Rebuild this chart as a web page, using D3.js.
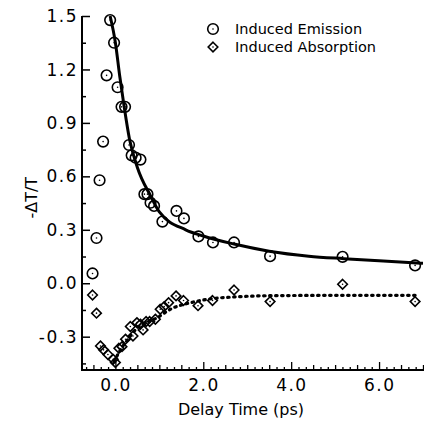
<!DOCTYPE html>
<html>
<head>
<meta charset="utf-8">
<script src="https://cdn.jsdelivr.net/npm/d3@7"></script>
<style>
  body { margin: 0; background: #fff; }
  text { font-family: "DejaVu Sans", Verdana, sans-serif; fill: #000; }
</style>
</head>
<body>
<div id="chart"></div>
<script>
// Induced emission (circles): delay time (ps), -dT/T
const emissionT = [-0.52, -0.43, -0.36, -0.28, -0.20, -0.12, -0.03, 0.05, 0.14, 0.22, 0.31, 0.37, 0.46, 0.57,
  0.66, 0.73, 0.80, 0.88, 1.07, 1.39, 1.56, 1.89, 2.22, 2.70, 3.52, 5.17, 6.82];
const emissionV = [0.055, 0.254, 0.578, 0.795, 1.167, 1.477, 1.35, 1.10, 0.99, 0.99, 0.776, 0.718, 0.705, 0.694,
  0.50, 0.50, 0.452, 0.434, 0.346, 0.406, 0.364, 0.263, 0.229, 0.229, 0.152, 0.148, 0.10];

// Induced absorption (diamonds)
const absorptionT = [-0.52, -0.43, -0.34, -0.27, -0.17, -0.05, 0.0, 0.08, 0.15, 0.23, 0.34, 0.40, 0.49, 0.57,
  0.63, 0.70, 0.78, 0.91, 1.02, 1.11, 1.21, 1.38, 1.55, 1.88, 2.21, 2.70, 3.52, 5.17, 6.82];
const absorptionV = [-0.066, -0.168, -0.352, -0.374, -0.40, -0.427, -0.445, -0.365, -0.356, -0.314, -0.243, -0.296,
  -0.221, -0.23, -0.262, -0.215, -0.215, -0.202, -0.146, -0.131, -0.109, -0.071, -0.097, -0.126, -0.097, -0.038,
  -0.103, -0.006, -0.103];

// fit curves
const emissionFitT = [-0.12, 0.0, 0.1, 0.2, 0.32, 0.5, 0.8, 1.0, 1.6, 2.0, 2.7, 3.5, 4.4, 5.2, 6.0, 7.0];
const emissionFitV = [1.50, 1.35, 1.16, 0.99, 0.81, 0.65, 0.49, 0.40, 0.30, 0.265, 0.22, 0.18, 0.152, 0.138, 0.126, 0.112];
const absorptionFitT = [-0.03, 0.1, 0.3, 0.5, 0.7, 0.9, 1.3, 1.7, 2.1, 2.7, 3.5, 5.0, 6.87];
const absorptionFitV = [-0.44, -0.38, -0.31, -0.25, -0.22, -0.20, -0.14, -0.11, -0.09, -0.077, -0.07, -0.068, -0.068];

const xTickLabels = [0, 2, 4, 6];
const yTickLabels = [-0.3, 0.0, 0.3, 0.6, 0.9, 1.2, 1.5];
const legendNames = ["Induced Emission", "Induced Absorption"];

const width = 424, height = 422;
const margin = { top: 16, right: 1, bottom: 52, left: 82 };

// plain hyphen for negatives, like the original
const fmt = d => d3.format(".1f")(d).replace("\u2212", "-");

const svg = d3.select("#chart").append("svg")
  .attr("width", width).attr("height", height);

const x = d3.scaleLinear().domain([-0.76, 7.0]).range([margin.left, width - margin.right]);
const y = d3.scaleLinear().domain([-0.487, 1.5]).range([height - margin.bottom, margin.top]);

svg.append("clipPath").attr("id", "plot")
  .append("rect")
  .attr("x", margin.left).attr("y", margin.top - 4)
  .attr("width", width - margin.left - margin.right)
  .attr("height", height - margin.top - margin.bottom + 4);

// y axis: labelled ticks every 0.3, minor in between, ticks point inward
const yAxis = d3.axisLeft(y)
  .tickValues(d3.range(-0.45, 1.51, 0.15))
  .tickSize(0)
  .tickFormat("");
const yg = svg.append("g")
  .attr("transform", `translate(${margin.left},0)`)
  .call(yAxis);
yg.select(".domain").attr("stroke", "#000").attr("stroke-width", 2).attr("d",
  `M0,${y(1.5)}V${height - margin.bottom}`);
yg.selectAll(".tick line")
  .attr("stroke", "#000").attr("stroke-width", 1.5)
  .attr("x2", d => (Math.abs(Math.round(d / 0.3) * 0.3 - d) < 1e-6) ? 8 : 4);

svg.append("g").selectAll("text")
  .data(yTickLabels)
  .join("text")
  .attr("x", margin.left - 4)
  .attr("y", d => y(d))
  .attr("dy", "0.36em")
  .attr("text-anchor", "end")
  .attr("font-size", "17px")
  .attr("letter-spacing", "1.5px")
  .text(fmt);

// x axis: ticks every 1/6 ps, taller at each 0.5, tallest at each 2
const xMinor = d3.range(-4, 43).map(i => i / 6);
const xAxis = d3.axisBottom(x).tickValues(xMinor).tickSize(0).tickFormat("");
const xg = svg.append("g")
  .attr("transform", `translate(0,${height - margin.bottom})`)
  .call(xAxis);
xg.select(".domain").attr("stroke", "#000").attr("stroke-width", 2)
  .attr("d", `M${margin.left - 1},0H${width}`);
xg.selectAll(".tick line")
  .attr("stroke", "#000").attr("stroke-width", 1.3)
  .attr("y2", d => {
    if (Math.abs(Math.round(d / 2) * 2 - d) < 1e-6) return -8;
    if (Math.abs(Math.round(d * 2) / 2 - d) < 1e-6) return -5;
    return -3;
  });

svg.append("g").selectAll("text")
  .data(xTickLabels)
  .join("text")
  .attr("x", d => x(d) + 0.75)
  .attr("y", height - margin.bottom + 21)
  .attr("text-anchor", "middle")
  .attr("font-size", "17px")
  .attr("letter-spacing", "1.5px")
  .text(fmt);

svg.append("text")
  .attr("x", 241)
  .attr("y", 415)
  .attr("text-anchor", "middle")
  .attr("font-size", "16px")
  .text("Delay Time (ps)");

svg.append("text")
  .attr("transform", `translate(37,${y(0.48)}) rotate(-90)`)
  .attr("text-anchor", "middle")
  .attr("font-size", "16px")
  .text("-\u0394T/T");

// fit curves
const line = d3.line().x(d => x(d[0])).y(d => y(d[1])).curve(d3.curveMonotoneX);
const plot = svg.append("g").attr("clip-path", "url(#plot)");

plot.append("path")
  .datum(emissionFitT.map((t, i) => [t, emissionFitV[i]]))
  .attr("d", line)
  .attr("fill", "none").attr("stroke", "#000").attr("stroke-width", 3);

plot.append("path")
  .datum(absorptionFitT.map((t, i) => [t, absorptionFitV[i]]))
  .attr("d", line)
  .attr("fill", "none").attr("stroke", "#000").attr("stroke-width", 3.2)
  .attr("stroke-linecap", "round")
  .attr("stroke-dasharray", "1.5,4.5");

// markers
const diamond = (cx, cy, r) => `M${cx},${cy - r}L${cx + r},${cy}L${cx},${cy + r}L${cx - r},${cy}Z`;

function drawCircles(g, pts) {
  g.selectAll("circle.m").data(pts).join("circle")
    .attr("class", "m")
    .attr("cx", d => d[0]).attr("cy", d => d[1]).attr("r", 5.3)
    .attr("fill", "none").attr("stroke", "#000").attr("stroke-width", 1.6);
  g.selectAll("circle.c").data(pts).join("circle")
    .attr("class", "c")
    .attr("cx", d => d[0]).attr("cy", d => d[1]).attr("r", 0.8)
    .attr("fill", "#000");
}
function drawDiamonds(g, pts) {
  g.selectAll("path.m").data(pts).join("path")
    .attr("class", "m")
    .attr("d", d => diamond(d[0], d[1], 4.8))
    .attr("fill", "none").attr("stroke", "#000").attr("stroke-width", 1.6);
  g.selectAll("circle.c").data(pts).join("circle")
    .attr("class", "c")
    .attr("cx", d => d[0]).attr("cy", d => d[1]).attr("r", 0.8)
    .attr("fill", "#000");
}

drawCircles(svg.append("g"), emissionT.map((t, i) => [x(t), y(emissionV[i])]));
drawDiamonds(svg.append("g"), absorptionT.map((t, i) => [x(t), y(absorptionV[i])]));

// legend
const legend = svg.append("g");
drawCircles(legend.append("g"), [[213, 29]]);
drawDiamonds(legend.append("g"), [[213, 47]]);
legend.selectAll("text")
  .data(legendNames)
  .join("text")
  .attr("x", 235)
  .attr("y", (d, i) => 34 + i * 18)
  .attr("font-size", "14.5px")
  .text(d => d);
</script>
</body>
</html>
